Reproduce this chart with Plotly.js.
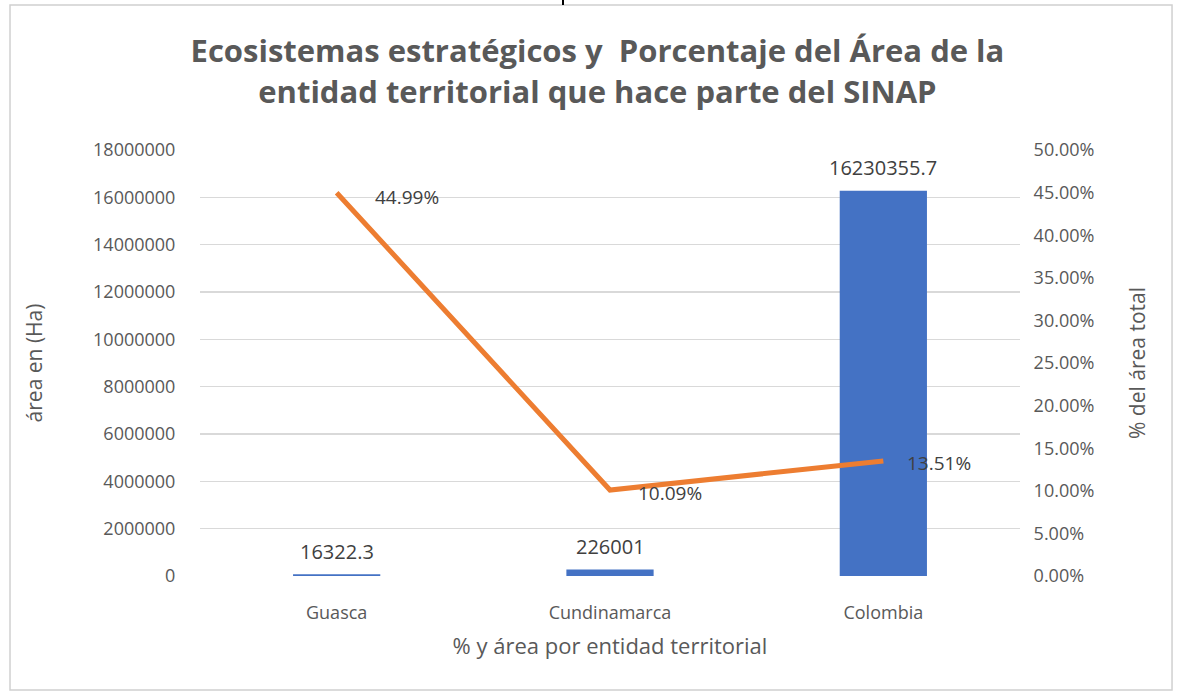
<!DOCTYPE html>
<html>
<head>
<meta charset="utf-8">
<script src="https://cdn.plot.ly/plotly-3.0.1.min.js"></script>
<style>html,body{margin:0;padding:0;background:#fff;}#chart{width:1183px;height:694px;}</style>
</head>
<body>
<div id="chart"></div>
<script>
const categories = ["Guasca", "Cundinamarca", "Colombia"];
const areaHa = [16322.3, 226001, 16230355.7];
const areaLabels = ["16322.3", "226001", "16230355.7"];
const pctArea = [0.4499, 0.1009, 0.1351];
const pctLabels = ["44.99%", "10.09%", "13.51%"];
const leftTicks = [0, 2000000, 4000000, 6000000, 8000000, 10000000, 12000000, 14000000, 16000000, 18000000];
const rightTicks = [0, 0.05, 0.10, 0.15, 0.20, 0.25, 0.30, 0.35, 0.40, 0.45, 0.50];

const FONT = "Open Sans, Noto Sans, sans-serif";
const GRAY = "#595959";
const pctXShift = [36, 26, 22];
const pctYShift = [-4, -3, -2];

const traces = [
  {
    type: "bar", x: categories, y: areaHa, yaxis: "y",
    marker: {color: "#4472C4", line: {color: "#4472C4", width: 2.5}},
    hoverinfo: "none", width: 0.31
  },
  {
    type: "scatter", mode: "lines", x: categories, y: pctArea, yaxis: "y2",
    line: {color: "#ED7D31", width: 5}, hoverinfo: "none"
  }
];

const pctAnnotations = categories.map((c, i) => ({
  x: c, y: pctArea[i], xref: "x", yref: "y2", text: pctLabels[i],
  showarrow: false, xanchor: "left", yanchor: "middle",
  xshift: pctXShift[i], yshift: pctYShift[i],
  font: {family: FONT, size: 19, color: "#404040"}
}));
const barAnnotations = categories.map((c, i) => ({
  x: c, y: areaHa[i], xref: "x", yref: "y", text: areaLabels[i],
  showarrow: false, xanchor: "center", yanchor: "bottom", yshift: 9,
  font: {family: FONT, size: 20, color: "#404040"}
}));

const layout = {
  width: 1183, height: 694,
  margin: {l: 200, r: 163, t: 150, b: 118},
  paper_bgcolor: "#fff", plot_bgcolor: "#fff",
  showlegend: false,
  title: {
    text: "Ecosistemas estratégicos y  Porcentaje del Área de la<br>entidad territorial que hace parte del SINAP",
    font: {family: FONT, size: 31, color: GRAY, weight: 700},
    x: 0.505, xanchor: "center", y: 0.91, yanchor: "middle"
  },
  xaxis: {
    type: "category", showgrid: false, zeroline: false,
    ticks: "outside", ticklen: 20, tickcolor: "rgba(0,0,0,0)",
    tickfont: {family: FONT, size: 18, color: GRAY},
    title: {text: "% y área por entidad territorial", font: {family: FONT, size: 22, color: GRAY}, standoff: 16}
  },
  yaxis: {
    range: [0, 18000000], tickvals: leftTicks, ticktext: leftTicks.map(String),
    showgrid: true, gridcolor: "#d9d9d9", gridwidth: 1.5, zeroline: false,
    ticks: "outside", ticklen: 20, tickcolor: "rgba(0,0,0,0)",
    tickfont: {family: FONT, size: 18, color: GRAY},
    title: {text: "área en (Ha)", font: {family: FONT, size: 21, color: GRAY}, standoff: 44}
  },
  yaxis2: {
    overlaying: "y", side: "right", range: [0, 0.5],
    tickvals: rightTicks, ticktext: rightTicks.map(v => (v * 100).toFixed(2) + "%"),
    showgrid: false, zeroline: false,
    ticks: "outside", ticklen: 9, tickcolor: "rgba(0,0,0,0)",
    tickfont: {family: FONT, size: 18, color: GRAY},
    title: {text: "% del área total", font: {family: FONT, size: 21, color: GRAY}, standoff: 36}
  },
  annotations: pctAnnotations.concat(barAnnotations),
  shapes: [
    {type: "rect", xref: "paper", yref: "paper", x0: -0.2317, x1: 1.1854, y0: -0.2676, y1: 1.3404,
     line: {color: "#d0d0d0", width: 1.5}, fillcolor: "rgba(0,0,0,0)", layer: "below"},
    {type: "line", xref: "paper", yref: "paper", x0: 0.4427, x1: 0.4427, y0: 1.3404, y1: 1.3521,
     line: {color: "#000", width: 2}}
  ]
};

Plotly.newPlot("chart", traces, layout, {staticPlot: true, displayModeBar: false});
</script>
</body>
</html>
